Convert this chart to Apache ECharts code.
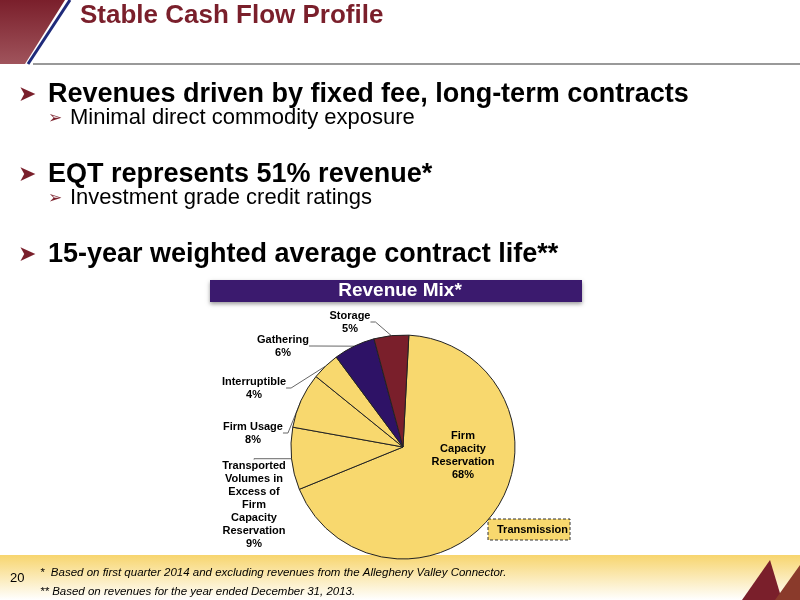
<!DOCTYPE html>
<html><head><meta charset="utf-8">
<script src="https://cdn.jsdelivr.net/npm/echarts@6/dist/echarts.min.js"></script>
<style>html,body{margin:0;padding:0;background:#fff}#c{width:800px;height:600px}</style>
</head><body><div id="c"></div>
<script>
const categories = ["Firm\nCapacity\nReservation", "Transported\nVolumes in\nExcess of\nFirm\nCapacity\nReservation", "Firm Usage", "Interruptible", "Gathering", "Storage"];
const values = [68, 9, 8, 4, 6, 5];
const colors = ["#f8d86e", "#f8d86e", "#f8d86e", "#f8d86e", "#2e1266", "#7a1f2b"];
const labelPos = [[463, 455], [254, 505], [253, 433], [254, 388], [283, 346], [350, 322]];

const chart = echarts.init(document.getElementById('c'));
const red = '#7a1f2b';
const bullet = (x, y, t, size, bold, sym) => [
  {type:'text', left:x-(sym==='➤'?30:22), top:y+(sym==='➤'?3:3), style:{text:sym, fill:red, font:(size-5)+'px "DejaVu Sans"'}},
  {type:'text', left:x, top:y, style:{text:t, fill:'#000', font:(bold?'bold ':'')+size+'px "Liberation Sans", Arial'}}
];
chart.setOption({
  graphic: [
    {type:'polygon', shape:{points:[[0,0],[65,0],[25,64],[0,64]]}, style:{fill:new echarts.graphic.LinearGradient(0,0,0,1,[{offset:0,color:'#7a1f2b'},{offset:1,color:'#a0545c'}])}},
    {type:'line', shape:{x1:70,y1:0,x2:28,y2:64}, style:{stroke:'#1f2a7a', lineWidth:3}},
    {type:'line', shape:{x1:33,y1:64,x2:800,y2:64}, style:{stroke:'#777', lineWidth:1.5}},
    {type:'text', left:80, top:3, style:{text:'Stable Cash Flow Profile', fill:red, font:'bold 26px "Liberation Sans", Arial'}},
    ...bullet(48, 81, 'Revenues driven by fixed fee, long-term contracts', 27, true, '➤'),
    ...bullet(70, 107, 'Minimal direct commodity exposure', 22, false, '➢'),
    ...bullet(48, 161, 'EQT represents 51% revenue*', 27, true, '➤'),
    ...bullet(70, 187, 'Investment grade credit ratings', 22, false, '➢'),
    ...bullet(48, 241, '15-year weighted average contract life**', 27, true, '➤'),
    {type:'rect', shape:{x:210,y:280,width:372,height:22}, style:{fill:'#3b1a6e', shadowBlur:4, shadowColor:'rgba(0,0,0,0.4)', shadowOffsetY:2}},
    {type:'text', left:'center', top:281, style:{text:'Revenue Mix*', fill:'#fff', font:'bold 19px "Liberation Sans", Arial'}},
    {type:'rect', shape:{x:0,y:555,width:800,height:45}, style:{fill:new echarts.graphic.LinearGradient(0,0,0,1,[{offset:0,color:'#f7d56e'},{offset:1,color:'#ffffff'}])}, z:-1},
    {type:'text', left:10, top:572, style:{text:'20', fill:'#000', font:'13px "Liberation Sans", Arial'}},
    {type:'text', left:40, top:567, style:{text:'*  Based on first quarter 2014 and excluding revenues from the Allegheny Valley Connector.', fill:'#000', font:'italic 11.5px "Liberation Sans", Arial'}},
    {type:'text', left:40, top:586, style:{text:'** Based on revenues for the year ended December 31, 2013.', fill:'#000', font:'italic 11.5px "Liberation Sans", Arial'}},
    {type:'polygon', shape:{points:[[742,600],[770,560],[782,600]]}, style:{fill:red}},
    {type:'polygon', shape:{points:[[775,600],[800,565],[800,600]]}, style:{fill:'#8a3a2b'}},
    {type:'rect', shape:{x:488,y:519,width:82,height:21}, style:{fill:'#f8d86e', stroke:'#333', lineWidth:1, lineDash:[3,2]}},
    {type:'text', left:497, top:524, style:{text:'Transmission', fill:'#000', font:'bold 11px "Liberation Sans", Arial'}}
  ],
  series: [{
    type:'pie', center:[403,447], radius:112, startAngle:87, clockwise:true,
    animation:false,
    data: categories.map((n,i)=>({name:n, value:values[i], itemStyle:{color:colors[i]},
      labelLine:{show:i!==0}})),
    itemStyle:{borderColor:'#222', borderWidth:1},
    label:{position:'outside', formatter:p=>p.name+'\n'+p.value+'%', color:'#000', fontWeight:'bold', fontSize:11, fontFamily:'"Liberation Sans", Arial', lineHeight:13, align:'center'},
    labelLine:{length:5, length2:5, lineStyle:{color:'#666', width:1}},
    labelLayout: p => ({x:labelPos[p.dataIndex][0], y:labelPos[p.dataIndex][1], align:'center', verticalAlign:'middle'})
  }]
});
</script></body></html>
